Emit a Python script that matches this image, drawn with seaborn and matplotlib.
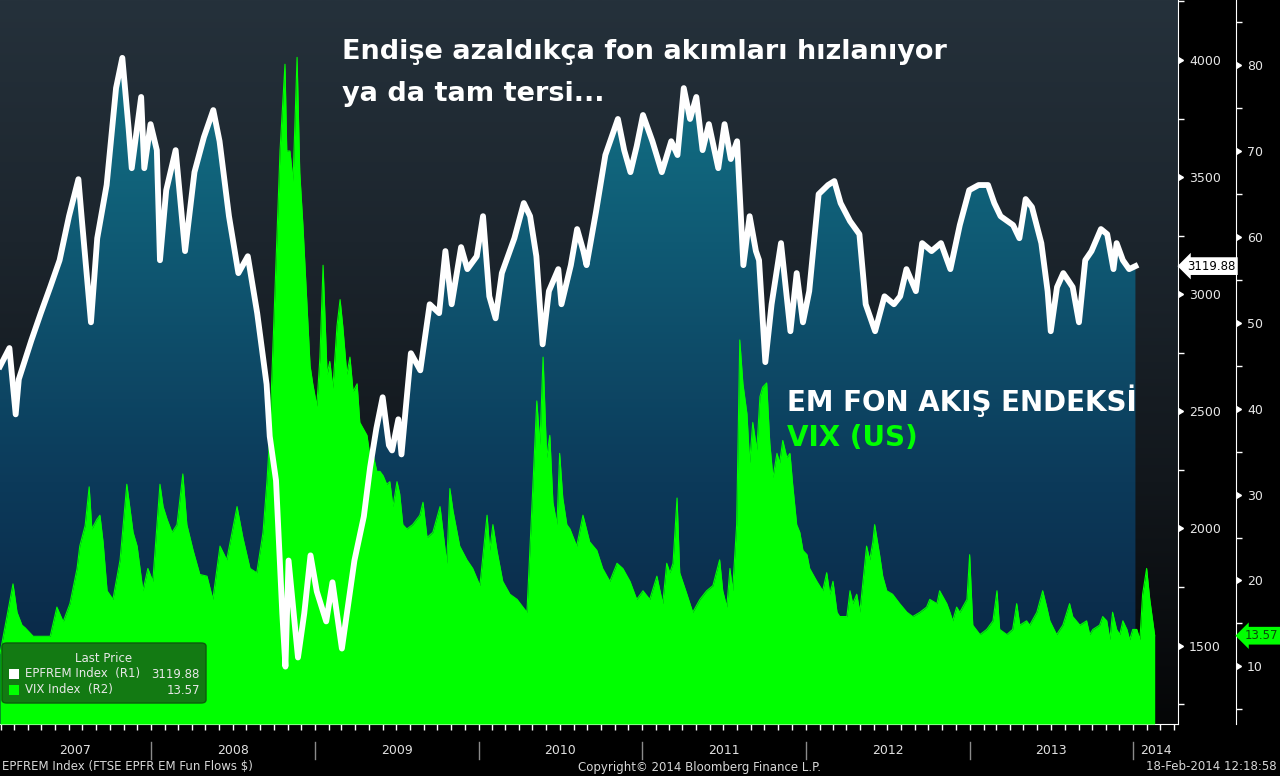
import numpy as np
import pandas as pd
import matplotlib
matplotlib.use("Agg")
import matplotlib.pyplot as plt
import matplotlib.dates as mdates
import matplotlib.transforms as mtransforms
from matplotlib.colors import LinearSegmentedColormap
from matplotlib.patches import FancyBboxPatch, Rectangle
import seaborn as sns

# ---- data ----
start = pd.Timestamp("2007-01-29")

# EPFREM index, weekly: weeks since start / index level
epfrem_week = [0, 3, 5, 6, 10, 13, 16, 19, 22, 25, 26, 29, 31, 34, 37, 39, 41, 42, 45, 46,
               48, 50, 51, 53, 56, 59, 62, 65, 68, 70, 73, 76, 79, 82, 85, 86, 88, 90, 91, 92,
               95, 97, 99, 101, 104, 106, 109, 113, 116, 118, 120, 122, 124, 125, 127, 128, 131, 134, 137, 140,
               142, 144, 147, 149, 152, 154, 156, 158, 160, 164, 167, 169, 171, 173, 175, 178, 179, 182, 184, 186,
               187, 190, 193, 197, 199, 201, 203, 205, 208, 211, 214, 216, 218, 220, 222, 224, 226, 229, 231, 233,
               235, 237, 239, 241, 242, 244, 246, 249, 252, 254, 256, 258, 261, 264, 266, 268, 271, 274, 276, 279,
               282, 285, 287, 289, 292, 294, 297, 300, 303, 306, 309, 312, 315, 317, 319, 323, 325, 327, 329, 332,
               334, 335, 337, 339, 342, 344, 346, 348, 351, 353, 355, 356, 358, 360, 362]
epfrem_value = [2692, 2770, 2487, 2637, 2803, 2919, 3030, 3145, 3333, 3491, 3333, 2880, 3239, 3466, 3880, 4009, 3709, 3538, 3842, 3538,
                3726, 3615, 3145, 3444, 3615, 3184, 3521, 3670, 3786, 3653, 3333, 3090, 3162, 2919, 2615, 2393, 2205, 1637, 1410, 1863,
                1449, 1637, 1885, 1731, 1603, 1770, 1487, 1863, 2051, 2261, 2427, 2560, 2355, 2333, 2466, 2316, 2748, 2675, 2957, 2919,
                3184, 2957, 3201, 3107, 3162, 3333, 2991, 2897, 3090, 3239, 3389, 3333, 3162, 2786, 3013, 3107, 2957, 3124, 3278, 3184,
                3124, 3350, 3594, 3748, 3615, 3521, 3632, 3765, 3653, 3521, 3653, 3594, 3880, 3748, 3842, 3615, 3726, 3538, 3726, 3577,
                3653, 3124, 3333, 3184, 3145, 2710, 2957, 3218, 2842, 3090, 2880, 3013, 3427, 3466, 3483, 3389, 3312, 3256, 2957, 2842,
                2991, 2957, 2991, 3107, 3013, 3218, 3184, 3218, 3107, 3295, 3444, 3466, 3466, 3389, 3333, 3295, 3239, 3406, 3372, 3218,
                3013, 2842, 3030, 3090, 3030, 2880, 3145, 3184, 3278, 3256, 3107, 3218, 3145, 3107, 3119.88]

# VIX, daily (sampled): days since start / level
vix_day = [0, 29, 38, 49, 56, 74, 89, 112, 127, 141, 156, 172, 178, 190, 199, 205, 216, 223, 230, 239,
           252, 268, 283, 297, 306, 319, 330, 341, 357, 364, 373, 384, 395, 408, 417, 431, 446, 462, 475, 491,
           506, 529, 542, 558, 573, 587, 596, 602, 609, 618, 625, 636, 640, 647, 654, 663, 669, 676, 685, 692,
           698, 707, 714, 721, 730, 736, 743, 752, 759, 765, 774, 781, 788, 797, 803, 819, 826, 832, 841, 848,
           855, 863, 870, 877, 886, 892, 899, 908, 921, 937, 944, 953, 966, 982, 997, 1004, 1011, 1026, 1042, 1055,
           1071, 1087, 1093, 1100, 1109, 1122, 1138, 1154, 1167, 1176, 1183, 1189, 1198, 1205, 1212, 1220, 1227, 1234, 1243, 1249,
           1256, 1265, 1272, 1287, 1301, 1316, 1332, 1345, 1361, 1377, 1390, 1406, 1421, 1435, 1450, 1466, 1479, 1488, 1495, 1502,
           1511, 1517, 1533, 1546, 1562, 1577, 1591, 1606, 1613, 1622, 1629, 1635, 1644, 1651, 1658, 1667, 1673, 1680, 1689, 1696,
           1702, 1711, 1718, 1725, 1734, 1740, 1747, 1756, 1763, 1769, 1778, 1785, 1792, 1801, 1807, 1823, 1836, 1845, 1852, 1859,
           1868, 1874, 1890, 1897, 1903, 1912, 1919, 1926, 1934, 1941, 1948, 1952, 1963, 1970, 1979, 1992, 2008, 2024, 2037, 2053,
           2068, 2075, 2091, 2097, 2113, 2120, 2126, 2135, 2142, 2158, 2164, 2171, 2187, 2202, 2216, 2225, 2231, 2247, 2260, 2269,
           2276, 2291, 2298, 2314, 2327, 2336, 2343, 2358, 2372, 2381, 2387, 2394, 2410, 2425, 2432, 2439, 2454, 2461, 2470, 2477,
           2483, 2492, 2499, 2506, 2515, 2521, 2528, 2537, 2544, 2550, 2559, 2566, 2577]
vix_value = [11.5, 19.6, 16.3, 14.8, 14.5, 13.5, 13.5, 13.5, 16.9, 15.2, 17.3, 21.4, 24.0, 26.4, 30.9, 26.0, 27.1, 27.6, 24.5, 18.8,
             17.8, 22.4, 31.2, 25.6, 24.0, 18.8, 21.4, 19.9, 31.2, 28.6, 27.1, 25.6, 26.5, 32.4, 26.5, 23.5, 20.7, 20.5, 17.8, 24.0,
             22.4, 28.6, 25.0, 21.4, 20.9, 25.6, 31.7, 36.9, 47.1, 59.9, 70.1, 80.1, 70.0, 70.0, 66.5, 80.9, 67.5, 61.4, 52.2, 45.0,
             42.9, 40.3, 46.0, 56.7, 44.0, 45.5, 42.4, 49.6, 52.7, 49.6, 44.0, 46.0, 42.0, 42.9, 38.4, 36.9, 34.3, 34.8, 32.7, 32.7,
             32.2, 31.2, 31.5, 28.6, 31.5, 30.1, 26.5, 26.0, 26.5, 27.6, 29.1, 25.0, 25.6, 28.6, 22.0, 30.7, 28.1, 24.0, 22.4, 21.4,
             19.4, 27.6, 23.5, 26.5, 23.5, 19.9, 18.4, 17.8, 16.9, 16.3, 24.0, 30.7, 40.9, 35.8, 46.0, 34.3, 36.9, 29.1, 26.5, 34.8,
             29.6, 26.5, 26.0, 24.0, 27.6, 24.5, 23.5, 21.4, 19.9, 22.0, 21.4, 19.9, 17.8, 18.8, 17.8, 20.5, 17.3, 22.0, 20.9, 22.0,
             29.6, 20.9, 18.4, 16.3, 17.8, 18.8, 19.4, 22.4, 18.8, 16.9, 21.4, 18.8, 26.5, 48.0, 42.9, 39.4, 33.7, 38.4, 35.2, 41.4,
             42.5, 43.0, 36.0, 32.0, 34.8, 33.7, 36.3, 34.3, 34.8, 31.2, 26.5, 25.6, 23.5, 23.0, 21.4, 19.9, 18.8, 20.9, 18.4, 19.9,
             16.3, 15.8, 15.8, 18.8, 17.3, 18.4, 16.3, 19.9, 24.0, 22.4, 24.5, 26.5, 23.0, 20.5, 18.8, 18.4, 17.3, 16.3, 15.8, 16.3,
             16.9, 17.8, 17.3, 18.8, 17.3, 16.3, 15.3, 16.9, 16.3, 17.8, 23.0, 14.8, 13.7, 14.3, 15.3, 18.8, 14.3, 13.7, 14.3, 17.3,
             14.8, 15.3, 14.8, 16.3, 18.8, 16.9, 15.3, 13.7, 14.8, 16.3, 17.3, 15.8, 14.8, 15.3, 13.7, 14.3, 14.8, 15.8, 15.3, 13.1,
             16.3, 14.3, 13.7, 15.3, 14.3, 13.1, 14.3, 14.3, 13.1, 18.4, 21.4, 17.8, 13.57]

year_labels = ["2007", "2008", "2009", "2010", "2011", "2012", "2013", "2014"]
r1_ticks = [1500, 2000, 2500, 3000, 3500, 4000]
r2_ticks = [10, 20, 30, 40, 50, 60, 70, 80]

epfrem_dates = start + pd.to_timedelta(np.array(epfrem_week) * 7, unit="D")
vix_dates = start + pd.to_timedelta(np.array(vix_day), unit="D")

# ---- layout ----
W, H = 1280, 776
r1_lo, r1_hi = 1165, 4256
r2_lo, r2_hi = 3.29, 87.58
x_left, x_right = start, pd.Timestamp("2014-04-11")
r2_pos = 1 + 58 / 1178


def fx(px):
    return px / W


def fy(py):
    return 1 - py / H


fig = plt.figure(figsize=(12.8, 7.76), dpi=100, facecolor="black")
ax = fig.add_axes([0, fy(724), fx(1178), 724 / H])
ax.set_facecolor("black")
ax_vix = ax.twinx()
ax_line = ax.twinx()

# EPFREM area with vertical gradient
poly = ax.fill_between(epfrem_dates, epfrem_value, r1_lo, facecolor="none", edgecolor="none")
x0n, x1n = mdates.date2num(x_left), mdates.date2num(x_right)
bg_cmap = LinearSegmentedColormap.from_list("bg", ["#050607", "#12171c", "#1c252d", "#25313b"])
ax.imshow(np.linspace(0, 1, 256).reshape(-1, 1), cmap=bg_cmap, origin="lower",
          extent=[x0n, x1n, r1_lo, r1_hi], aspect="auto", zorder=0)
fill_cmap = LinearSegmentedColormap.from_list("fill", ["#0a2240", "#0c3a5a", "#0f5a74", "#147a8c"])
im = ax.imshow(np.linspace(0, 1, 256).reshape(-1, 1), cmap=fill_cmap, origin="lower",
               extent=[x0n, x1n, r1_lo, r1_hi], aspect="auto", zorder=1)
im.set_clip_path(poly.get_paths()[0], transform=ax.transData)

# VIX area
ax_vix.fill_between(vix_dates, vix_value, r2_lo, color="#00ff00", lw=0)
sns.lineplot(x=vix_dates, y=vix_value, ax=ax_vix, color="#00ff00", linewidth=0.8, errorbar=None)

# EPFREM line
sns.lineplot(x=epfrem_dates, y=epfrem_value, ax=ax_line, color="white", linewidth=4.2, errorbar=None)

for a in (ax, ax_vix, ax_line):
    a.set_xlim(x_left, x_right)
    a.set_xlabel("")
    a.set_ylabel("")
ax.set_ylim(r1_lo, r1_hi)
ax_line.set_ylim(r1_lo, r1_hi)
ax_vix.set_ylim(r2_lo, r2_hi)

# spines
for s in ("top", "left"):
    ax.spines[s].set_visible(False)
ax.spines["right"].set_color("white")
ax.spines["bottom"].set_color("white")
for s in ("top", "left", "bottom"):
    ax_vix.spines[s].set_visible(False)
ax_vix.spines["right"].set_position(("axes", r2_pos))
ax_vix.spines["right"].set_color("white")
for s in ax_line.spines.values():
    s.set_visible(False)
ax_line.set_yticks([])

# R1 axis
ax.yaxis.tick_right()
ax.set_yticks(r1_ticks)
ax.set_yticks(np.arange(1250, 4300, 500), minor=True)
ax.tick_params(axis="y", which="major", length=0, pad=8, labelsize=9, labelcolor="#e6e6e6")
ax.tick_params(axis="y", which="minor", length=4, width=1, color="white", direction="out")
# R2 axis
ax_vix.set_yticks(r2_ticks)
ax_vix.set_yticks(np.arange(5, 90, 10), minor=True)
ax_vix.tick_params(axis="y", which="major", length=0, pad=8, labelsize=9, labelcolor="#e6e6e6")
ax_vix.tick_params(axis="y", which="minor", length=4, width=1, color="white", direction="out")

# triangle markers for major ticks
t1 = mtransforms.blended_transform_factory(ax.transAxes, ax.transData)
ax.plot([1.0] * len(r1_ticks), r1_ticks, transform=t1, ls="none", marker=9, ms=5,
        color="white", clip_on=False, zorder=5)
t2 = mtransforms.blended_transform_factory(ax_vix.transAxes, ax_vix.transData)
ax_vix.plot([r2_pos] * len(r2_ticks), r2_ticks, transform=t2, ls="none", marker=9, ms=5,
            color="white", clip_on=False, zorder=5)

# x axis: monthly ticks, year separators and labels
ax.xaxis.set_major_locator(mdates.YearLocator())
ax.xaxis.set_minor_locator(mdates.MonthLocator())
ax.tick_params(axis="x", which="both", length=4, width=1, color="white", labelbottom=False)
tx = mtransforms.blended_transform_factory(ax.transData, fig.transFigure)
bounds = [x_left] + [pd.Timestamp(f"{y}-01-01") for y in range(2008, 2015)] + [x_right]
for b in bounds[1:-1]:
    ax.plot([b, b], [fy(759), fy(742)], transform=tx, color="#8a8a8a", lw=1, clip_on=False)
for lab, a, b in zip(year_labels, bounds[:-1], bounds[1:]):
    ax.text(a + (b - a) / 2, fy(750), lab, transform=tx, ha="center", va="center",
            fontsize=9, color="#e0e0e0")

# last value tags
ax.text(1.0 + 9 / 1178, 3119.88, "3119.88", transform=t1, ha="left", va="center", fontsize=8.5,
        color="black", bbox=dict(boxstyle="larrow,pad=0.2", fc="white", ec="none"), zorder=6)
ax_vix.text(r2_pos + 9 / 1178, 13.57, "13.57", transform=t2, ha="left", va="center", fontsize=8.5,
            color="#0a4a0a", bbox=dict(boxstyle="larrow,pad=0.2", fc="#00ff00", ec="none"), zorder=6)

# annotations
fig.text(fx(342), fy(52), "Endişe azaldıkça fon akımları hızlanıyor", fontsize=19.5,
         fontweight="bold", color="white", va="center", ha="left")
fig.text(fx(342), fy(94), "ya da tam tersi...", fontsize=19.5,
         fontweight="bold", color="white", va="center", ha="left")
fig.text(fx(787), fy(401), "EM FON AKIŞ ENDEKSİ", fontsize=20,
         fontweight="bold", color="white", va="center", ha="left")
fig.text(fx(787), fy(438), "VIX (US)", fontsize=20,
         fontweight="bold", color="#00ff00", va="center", ha="left")

# legend box
fig.add_artist(FancyBboxPatch((fx(2), fy(703)), fx(204), 60 / H,
                              boxstyle="round,pad=0,rounding_size=0.004", fc="#137a13",
                              ec="#0c5c0c", lw=1, transform=fig.transFigure))
fig.text(fx(104), fy(659), "Last Price", fontsize=8.5, color="#e8e8e8", ha="center", va="center")
fig.add_artist(Rectangle((fx(9), fy(679)), fx(10), 10 / H, fc="white", ec="none",
                         transform=fig.transFigure))
fig.add_artist(Rectangle((fx(9), fy(695)), fx(10), 10 / H, fc="#00ff00", ec="none",
                         transform=fig.transFigure))
fig.text(fx(25), fy(674), "EPFREM Index  (R1)", fontsize=8.5, color="#e8e8e8", va="center")
fig.text(fx(200), fy(674), "3119.88", fontsize=8.5, color="#e8e8e8", va="center", ha="right")
fig.text(fx(25), fy(690), "VIX Index  (R2)", fontsize=8.5, color="#e8e8e8", va="center")
fig.text(fx(200), fy(690), "13.57", fontsize=8.5, color="#e8e8e8", va="center", ha="right")

# footer
fig.text(fx(2), fy(767), "EPFREM Index (FTSE EPFR EM Fun Flows $)", fontsize=8.5,
         color="#d8d8d8", va="center")
fig.text(fx(700), fy(767), "Copyright© 2014 Bloomberg Finance L.P.", fontsize=8.5,
         color="#d8d8d8", va="center", ha="center")
fig.text(fx(1277), fy(767), "18-Feb-2014 12:18:58", fontsize=8.5,
         color="#d8d8d8", va="center", ha="right")

fig.savefig("out.png", dpi=100, facecolor="black")
